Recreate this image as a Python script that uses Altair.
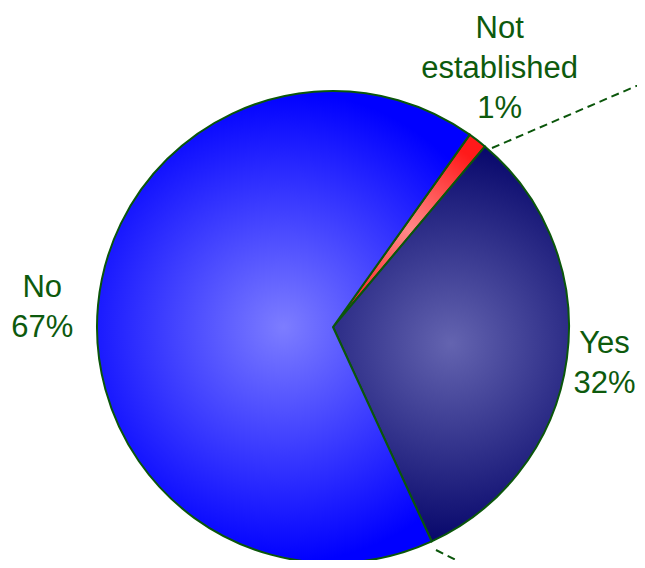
import math
import altair as alt
import pandas as pd

# ---- data ----
categories = ["Not established", "Yes", "No"]
values = [1.3, 32.0, 66.7]
pct_labels = ["1%", "32%", "67%"]

df = pd.DataFrame({"category": categories, "value": values, "pct": pct_labels})
df["end"] = df["value"].cumsum()
df["start"] = df["end"] - df["value"]
df["mid"] = (df["start"] + df["end"]) / 2
df["label"] = df["category"] + " " + df["pct"]

# ---- layout / style ----
W, H = 629, 552
CX, CY = 325, 319
R = 236
START = math.radians(35.4)
GREEN = "#0b560b"
TEXT_GREEN = "#0d5a0d"

theta_scale = alt.Scale(domain=[0, 100], range=[START, START + 2 * math.pi])


def radial(inner, outer):
    return {
        "gradient": "radial",
        "x1": 0.5, "y1": 0.5, "r1": 0,
        "x2": 0.5, "y2": 0.5, "r2": 0.5,
        "stops": [{"offset": 0, "color": inner}, {"offset": 1, "color": outer}],
    }


fills = {
    "Not established": radial("#ff8a8a", "#ff1a1a"),
    "Yes": radial("#6464b0", "#08086c"),
    "No": radial("#7d7dff", "#0000ff"),
}

base = alt.Chart(df)

arcs = []
for cat in categories:
    arcs.append(
        base.transform_filter(alt.datum.category == cat)
        .mark_arc(fill=fills[cat], stroke=GREEN, strokeWidth=2, radius=R)
        .encode(
            theta=alt.Theta("start:Q", scale=theta_scale, stack=None),
            theta2="end:Q",
            x=alt.value(CX),
            y=alt.value(CY),
        )
    )

leaders = [
    ("Not established", (484, 140, 640, 73)),
    ("Yes", (428, 542, 468, 562)),
]
rules = []
for cat, (x1, y1, x2, y2) in leaders:
    rules.append(
        base.transform_filter(alt.datum.category == cat)
        .mark_rule(stroke=GREEN, strokeWidth=2, strokeDash=[8, 5])
        .encode(x=alt.value(x1), y=alt.value(y1), x2=alt.value(x2), y2=alt.value(y2))
    )

label_pos = {
    "Not established": (300, -17, -61),
    "Yes": (278, -4, -20),
    "No": (292, 0, -12),
}
texts = []
for cat in categories:
    r, dx, dy = label_pos[cat]
    texts.append(
        base.transform_filter(alt.datum.category == cat)
        .mark_text(
            font="Liberation Sans", fontSize=31, lineHeight=40, lineBreak=" ",
            color=TEXT_GREEN, align="center", baseline="middle", dx=dx, dy=dy,
        )
        .encode(
            theta=alt.Theta("mid:Q", scale=theta_scale, stack=None),
            radius=alt.value(r),
            x=alt.value(CX),
            y=alt.value(CY),
            text="label:N",
        )
    )

chart = (
    alt.layer(*arcs, *rules, *texts)
    .properties(width=W, height=H, autosize="none", padding=0, background="white")
    .configure_view(strokeWidth=0)
)

chart.save("out.html", embed_options={"renderer": "svg", "actions": False})
